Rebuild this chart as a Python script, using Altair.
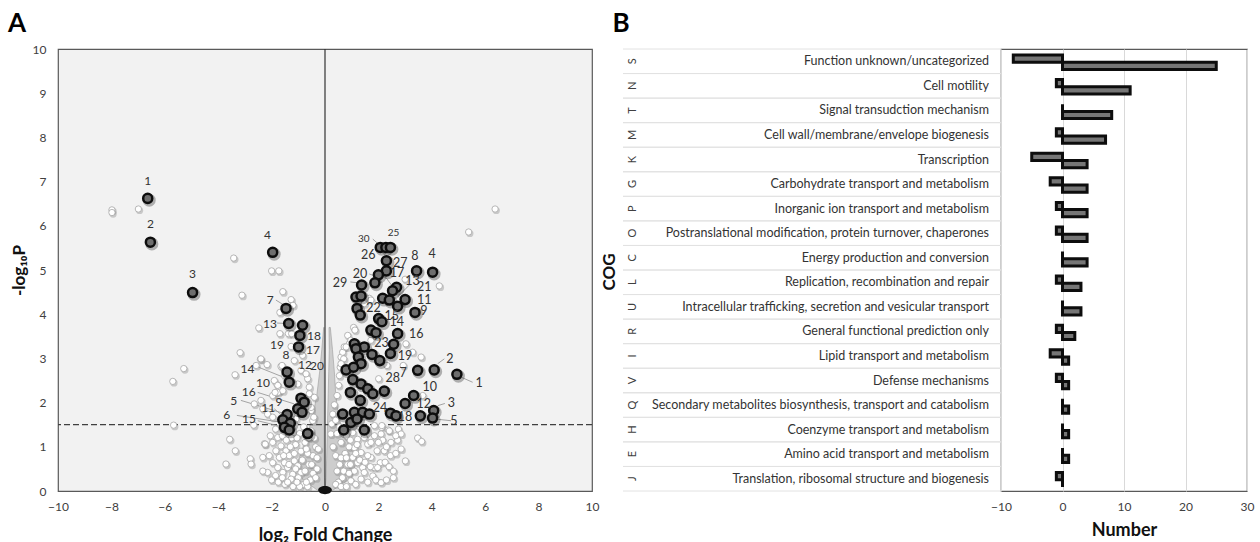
import altair as alt
import pandas as pd

FONT = "Lato"

# ---------------- Panel A: volcano plot data (log2 FC, -log10 P) ----------------
white_left = [
    (-7.98, 6.36), (-7.98, 6.30), (-6.99, 6.38),
    (-3.42, 5.27), (-2.0, 4.98), (-1.73, 4.98), (-3.11, 4.43), (-1.58, 4.51), (-1.27, 4.33),
    (-1.69, 4.04), (-1.2, 4.2), (-2.48, 3.69), (-3.18, 3.13), (-2.42, 2.98), (-1.69, 3.56),
    (-1.37, 3.56), (-1.25, 3.56), (-1.27, 3.27), (-1.65, 2.82), (-5.29, 2.77), (-5.7, 2.48),
    (-3.37, 2.63), (-2.58, 2.84), (-2.4, 2.99), (-2.17, 2.86), (-5.67, 1.49), (-3.57, 1.17),
    (-2.27, 1.07), (-2.4, 2.05), (-2.65, 1.97), (-2.33, 1.86), (-1.8, 2.41), (-1.71, 2.27),
    (-2.67, 1.49), (-3.36, 0.91), (-3.71, 0.61), (-2.8, 0.73), (-2.77, 0.61), (-2.24, 1.06),
    (-2.33, 0.76), (-2.15, 0.42), (-1.52, 2.61), (-0.9, 2.73), (-0.65, 2.54), (-0.59, 2.35),
    (-1.77, 2.23), (-1.96, 2.16), (-2.15, 1.74), (-1.96, 1.67), (-1.09, 1.63), (-0.52, 1.82),
    (-0.46, 1.59), (-0.52, 1.36), (-1.77, 1.21), (-1.96, 1.10), (-1.65, 1.02), (-1.84, 0.91),
    (-1.46, 0.91), (-2.09, 0.8), (-1.71, 0.76), (-1.34, 0.8), (-1.96, 0.64), (-1.52, 0.64),
    (-1.15, 0.68), (-1.77, 0.53), (-1.40, 0.53), (-1.02, 0.57), (-1.58, 0.42), (-1.21, 0.38),
    (-0.9, 0.42), (-1.27, 0.27), (-2.33, 0.45), (-1.61, 2.84), (-1.15, 2.95), (-0.84, 3.07),
    (-0.71, 2.65), (-0.59, 2.2), (-0.4, 2.12), (-0.52, 1.89), (-0.42, 1.67), (-1.9, 2.5),
    (-1.77, 2.39), (-1.87, 2.23), (-1.58, 2.27), (-1.02, 2.42),
    (-0.4, 1.2), (-0.35, 1.0), (-0.45, 0.8), (-0.6, 0.6), (-0.75, 0.45), (-1.0, 0.3),
    (-0.55, 0.25), (-0.8, 0.15), (-0.3, 0.5), (-1.1, 1.05), (-1.25, 1.2), (-0.95, 1.3),
    (-0.75, 1.1), (-0.65, 0.85), (-0.9, 0.9), (-1.15, 0.85),
    (-2.0, 0.25), (-1.75, 0.2), (-1.5, 0.15), (-1.2, 0.1), (-0.95, 0.1), (-0.65, 0.1),
    (-1.85, 0.35), (-1.6, 0.3), (-1.4, 0.2), (-1.05, 0.2), (-0.7, 0.2), (-2.05, 1.25),
    (-1.85, 1.4), (-1.6, 1.25), (-1.45, 1.15), (-1.3, 1.0), (-1.55, 0.8), (-1.35, 0.6),
    (-1.1, 0.5), (-0.85, 0.7), (-0.7, 0.95), (-0.6, 1.2), (-0.8, 1.45), (-1.05, 1.2),
    (-0.5, 0.6), (-0.45, 0.4), (-0.35, 0.3), (-0.3, 0.75), (-0.25, 0.95),
]
white_right = [
    (6.37, 6.38), (5.38, 5.86), (4.28, 4.64), (3.0, 4.79), (1.66, 4.36), (1.07, 3.7), (0.85, 3.52),
    (3.03, 3.33), (3.28, 3.14), (3.6, 3.03), (2.93, 2.84), (2.01, 2.54), (2.32, 2.84), (3.66, 2.16),
    (0.6, 3.03), (0.66, 3.14), (0.57, 2.8), (0.54, 2.61), (0.51, 2.39), (0.45, 2.16), (0.35, 1.95),
    (0.29, 1.74), (0.25, 1.52), (0.22, 1.29), (0.91, 3.33), (0.72, 3.26), (2.12, 1.44), (2.37, 1.38),
    (2.75, 1.40), (2.85, 1.29), (3.47, 1.2), (3.62, 1.12), (2.16, 1.15), (2.72, 1.15), (2.13, 1.48),
    (2.41, 1.36), (3.01, 0.68), (2.45, 0.8), (2.56, 0.45), (2.56, 0.30), (2.1, 0.19), (1.72, 0.76),
    (1.95, 0.91), (1.6, 1.06), (1.41, 0.53), (1.85, 0.53), (2.07, 0.64), (1.04, 1.32), (1.22, 1.17),
    (1.47, 1.21), (1.72, 1.10), (1.10, 0.98), (1.35, 0.87), (1.6, 0.8), (1.04, 0.76), (1.22, 0.64),
    (1.10, 0.45), (1.47, 0.42), (1.79, 0.34), (1.35, 0.27), (0.97, 0.23), (1.97, 0.53), (2.22, 0.91),
    (2.47, 1.10), (2.1, 1.29), (1.85, 1.48), (1.54, 1.4), (1.72, 4.32), (1.47, 4.24), (1.12, 3.64),
    (0.97, 3.41), (0.79, 3.26), (1.72, 3.41), (0.7, 2.99), (0.6, 2.88),
    (0.3, 1.0), (0.4, 0.8), (0.55, 0.6), (0.7, 0.45), (0.85, 0.6), (0.75, 0.85), (0.6, 1.1),
    (0.9, 1.0), (0.45, 1.3), (0.8, 1.25), (0.65, 0.3), (0.9, 0.4), (0.5, 0.2),
    (0.4, 0.15), (0.6, 0.1), (0.8, 0.1), (1.15, 0.15), (1.6, 0.2), (1.9, 0.25), (2.3, 0.25),
    (0.45, 0.45), (0.6, 0.75), (0.8, 0.75), (0.95, 0.6), (1.15, 0.85), (1.3, 0.7), (1.5, 0.65),
    (1.7, 0.55), (2.25, 0.65), (2.4, 0.55), (2.3, 1.0), (2.0, 1.1), (1.85, 1.25), (1.3, 1.45),
    (1.05, 1.5), (0.85, 1.45), (0.55, 1.45), (0.4, 1.6), (2.65, 0.85), (2.85, 0.95), (2.65, 1.25),
    (1.2, 1.05), (0.95, 1.15),
]
dark_left = [
    (-6.64, 6.62), (-6.54, 5.63), (-4.96, 4.49), (-1.96, 5.40),
    (-1.46, 4.13), (-1.36, 3.79), (-0.84, 3.75), (-0.94, 3.52), (-0.99, 3.26),
    (-1.42, 2.69), (-1.34, 2.46),
    (-0.9, 2.10), (-0.78, 2.01), (-1.02, 1.86), (-0.86, 1.78), (-1.42, 1.73), (-1.58, 1.61),
    (-1.30, 1.53), (-1.52, 1.44), (-1.34, 1.38), (-0.65, 1.30),
]
dark_right = [
    (2.07, 5.51), (2.28, 5.51), (2.45, 5.51), (2.30, 5.21), (2.30, 4.98), (2.0, 4.89),
    (3.43, 4.98), (4.03, 4.95), (1.87, 4.71), (1.37, 4.66), (2.68, 4.61), (2.53, 4.53),
    (1.16, 4.39), (1.35, 4.41), (2.16, 4.36), (2.41, 4.32), (3.0, 4.33), (2.72, 4.18),
    (1.2, 4.13), (1.32, 3.98), (3.37, 4.04), (2.01, 3.9), (2.13, 3.83), (1.72, 3.64),
    (1.91, 3.58), (2.72, 3.56), (2.57, 3.32), (2.45, 3.11), (1.10, 3.33), (1.47, 3.26),
    (1.16, 3.22), (1.25, 3.03), (1.76, 3.09), (2.05, 2.95), (1.35, 2.88), (0.79, 2.74),
    (1.07, 2.8), (3.47, 2.73), (4.09, 2.74), (4.94, 2.64), (1.04, 2.52), (1.35, 2.42),
    (1.6, 2.31), (1.79, 2.2), (2.22, 2.26), (0.95, 2.23), (1.32, 2.05), (3.32, 2.16),
    (3.0, 1.98), (0.66, 1.74), (1.10, 1.78), (1.41, 1.78), (1.66, 1.74), (2.45, 1.76),
    (2.66, 1.7), (3.57, 1.7), (4.07, 1.82), (4.03, 1.65), (0.97, 1.55), (1.2, 1.63),
    (0.70, 1.38), (1.47, 1.38),
]
label_text = ["1", "2", "3", "4", "7", "13", "18", "17", "19", "8", "12", "20", "14", "10",
              "16", "5", "9", "11", "6", "15",
              "30", "25", "26", "27", "8", "4", "17", "20", "29", "13", "21", "11", "9", "22",
              "15", "14", "16", "23", "19", "2", "1", "28", "7", "10", "3", "12", "24", "18", "5"]
label_x = [-6.64, -6.54, -4.96, -2.15, -2.05, -2.06, -0.41, -0.45, -1.80, -1.46, -0.75, -0.3,
           -2.9, -2.32, -2.86, -3.42, -1.72, -2.13, -3.68, -2.85,
           1.45, 2.57, 1.62, 2.82, 3.37, 4.01, 2.70, 1.31, 0.56, 3.28, 3.72, 3.72, 3.70, 1.82,
           2.50, 2.69, 3.42, 2.12, 3.0, 4.68, 5.77, 2.54, 2.93, 3.92, 4.73, 3.70, 2.06, 3.0, 4.83]
label_y = [7.02, 6.05, 4.91, 5.80, 4.32, 3.77, 3.50, 3.20, 3.30, 3.07, 2.84, 2.82,
           2.77, 2.45, 2.24, 2.03, 2.01, 1.88, 1.71, 1.62,
           5.70, 5.83, 5.34, 5.15, 5.32, 5.36, 4.94, 4.91, 4.71, 4.75, 4.62, 4.33, 4.07, 4.13,
           3.95, 3.83, 3.55, 3.35, 3.06, 2.98, 2.45, 2.55, 2.67, 2.35, 1.98, 1.97, 1.88, 1.68, 1.59]
label_size = [12] * 20 + [10, 10] + [12.5] * 27

# leader lines from labels to their points (start x/y, end x/y)
lead_x1 = [5.53, 4.47, 4.49, 4.72, 1.79, 0.95, 1.66, 2.28, 3.16,
           -1.84, -1.80, -2.65, -2.52, -3.15, -1.90, -3.30, -2.52]
lead_y1 = [2.46, 2.99, 1.98, 1.59, 5.70, 4.73, 4.91, 4.83, 4.66,
           4.32, 3.80, 2.84, 2.23, 2.05, 1.86, 1.71, 1.59]
lead_x2 = [4.97, 4.22, 4.22, 4.10, 2.07, 1.35, 2.03, 2.54, 2.72,
           -1.52, -1.46, -1.58, -1.15, -1.46, -1.46, -1.58, -1.52]
lead_y2 = [2.61, 2.88, 1.93, 1.63, 5.55, 4.70, 4.83, 4.62, 4.39,
           4.20, 3.79, 2.58, 1.97, 1.74, 1.63, 1.55, 1.44]

# dense cloud around zero (outline of the packed region)
cloud_y = [0.0, 0.3, 0.7, 1.2, 1.7, 2.2, 2.7, 3.2, 3.7]
cloud_left_outer = [-0.25, -0.9, -1.0, -0.7, -0.45, -0.3, -0.2, -0.12, -0.05]
cloud_left_inner = [0.0, -0.02, -0.03, -0.03, -0.03, -0.03, -0.03, -0.03, -0.03]
cloud_right_inner = [0.0, 0.04, 0.06, 0.08, 0.1, 0.12, 0.14, 0.16, 0.15]
cloud_right_outer = [0.25, 1.0, 1.2, 0.75, 0.5, 0.4, 0.35, 0.28, 0.2]
apex_x = [0.0]
apex_y = [0.02]
threshold = [1.5]
x_ticks = list(range(-10, 11, 2))
y_ticks = list(range(0, 11))

# ---------------- Panel B: COG bars ----------------
cog_codes = ["S", "N", "T", "M", "K", "G", "P", "O", "C", "L", "U", "R", "I", "V", "Q", "H", "E", "J"]
cog_names = [
    "Function unknown/uncategorized",
    "Cell motility",
    "Signal transudction mechanism",
    "Cell wall/membrane/envelope biogenesis",
    "Transcription",
    "Carbohydrate transport and metabolism",
    "Inorganic ion transport and metabolism ",
    "Postranslational modification, protein turnover, chaperones",
    "Energy production and conversion ",
    "Replication, recombination and repair",
    "Intracellular trafficking, secretion and vesicular transport",
    "General functional prediction only",
    "Lipid transport and metabolism",
    "Defense mechanisms",
    "Secondary metabolites biosynthesis, transport and catabolism ",
    "Coenzyme transport and metabolism ",
    "Amino acid transport and metabolism",
    "Translation, ribosomal structure and biogenesis",
]
down_counts = [-8, -1, 0, -1, -5, -2, -1, -1, 0, -1, 0, -1, -2, -1, 0, 0, 0, -1]
up_counts = [25, 11, 8, 7, 4, 4, 4, 4, 4, 3, 3, 2, 1, 1, 1, 1, 1, 0]
b_ticks = [-10, 0, 10, 20, 30]

# ================= build panel A =================
WA, HA = 534, 442
wdf = pd.DataFrame(white_left + white_right, columns=["x", "y"])
ddf = pd.DataFrame(dark_left + dark_right, columns=["x", "y"])
ldf = pd.DataFrame({"t": label_text, "x": label_x, "y": label_y, "s": label_size})
lead_df = pd.DataFrame({"x1": lead_x1, "y1": lead_y1, "x2": lead_x2, "y2": lead_y2})
cdf = pd.DataFrame({"cy": cloud_y, "lo": cloud_left_outer, "li": cloud_left_inner,
                    "ri": cloud_right_inner, "ro": cloud_right_outer})

xs = alt.Scale(domain=[-10, 10], nice=False, zero=False)
ys = alt.Scale(domain=[0, 10], nice=False)
xax = alt.Axis(values=x_ticks, grid=False, ticks=False, domain=False, labelFontSize=12,
               labelPadding=10, labelColor="#404040", labelFlush=False,
               title="log\u2082 Fold Change", titleFontSize=18, titleFontWeight="bold",
               titlePadding=14, titleColor="#111111")
yax = alt.Axis(values=y_ticks, grid=False, ticks=False, domain=False, labelFontSize=12,
               labelPadding=12, labelColor="#404040", labelFlush=False,
               title="-log\u2081\u2080P", titleFontSize=17, titleFontWeight="bold",
               titlePadding=4, titleColor="#111111")


def X(f):
    return alt.X(f, type="quantitative", scale=xs, axis=xax)


def Y(f):
    return alt.Y(f, type="quantitative", scale=ys, axis=yax)


cloud_l = alt.Chart(cdf).mark_area(orient="horizontal", fill="#cdcdcd", stroke="#9a9a9a",
                                   strokeWidth=0.6).encode(y=Y("cy"), x=X("lo"), x2="li")
cloud_r = alt.Chart(cdf).mark_area(orient="horizontal", fill="#cdcdcd", stroke="#9a9a9a",
                                   strokeWidth=0.6).encode(y=Y("cy"), x=X("ri"), x2="ro")
thr = alt.Chart(pd.DataFrame({"t": threshold})).mark_rule(
    strokeDash=[6, 3], color="#404040", strokeWidth=1.3).encode(y=Y("t"))
zero = alt.Chart(pd.DataFrame({"z": [0]})).mark_rule(color="#333333", strokeWidth=1.2).encode(x=X("z"))
leaders = alt.Chart(lead_df).mark_rule(color="#9a9a9a", strokeWidth=0.9).encode(
    x=X("x1"), y=Y("y1"), x2="x2", y2="y2")
w_shadow = alt.Chart(wdf).mark_circle(color="#7a7a7a", opacity=0.35, size=52, xOffset=1.2,
                                      yOffset=1.5).encode(x=X("x"), y=Y("y"))
w_pts = alt.Chart(wdf).mark_point(shape="circle", filled=True, fill="#ffffff", stroke="#a6a6a6",
                                  strokeWidth=0.8, size=40, opacity=1).encode(x=X("x"), y=Y("y"))
apex = alt.Chart(pd.DataFrame({"x": apex_x, "y": apex_y})).mark_point(
    shape="M -1 0 A 1 0.6 0 1 0 1 0 A 1 0.6 0 1 0 -1 0 Z", filled=True, fill="#111111",
    size=190, opacity=1).encode(x=X("x"), y=Y("y"))
d_shadow = alt.Chart(ddf).mark_circle(color="#000000", opacity=0.28, size=170, xOffset=1.5,
                                      yOffset=1.8).encode(x=X("x"), y=Y("y"))
d_pts = alt.Chart(ddf).mark_point(shape="circle", filled=True, fill="#6e6e6e", stroke="#0d0d0d",
                                  strokeWidth=2.5, size=82, opacity=1).encode(x=X("x"), y=Y("y"))
labels = alt.Chart(ldf).mark_text(font=FONT, color="#333333", align="center",
                                  baseline="middle").encode(
    x=X("x"), y=Y("y"), text="t:N", size=alt.Size("s:Q", scale=None, legend=None))
letter_a = alt.Chart(pd.DataFrame({"t": ["A"]})).mark_text(
    font=FONT, fontSize=26, fontWeight="bold", color="#000000", align="center",
    baseline="middle").encode(text="t:N", x=alt.value(-41), y=alt.value(-25))

panel_a = alt.layer(cloud_l, cloud_r, thr, zero, leaders, w_shadow, w_pts, apex, d_shadow,
                    d_pts, labels, letter_a).properties(
    width=WA, height=HA,
    view=alt.ViewBackground(fill="#f2f2f2", stroke="#595959", strokeWidth=1.2))

# ================= build panel B =================
WB, HB = 246, 442
bdf = pd.DataFrame({
    "code": cog_codes * 2,
    "series": ["down"] * len(cog_codes) + ["up"] * len(cog_codes),
    "value": down_counts + up_counts,
})
tdf = pd.DataFrame({"code": cog_codes, "name": cog_names})
yband = alt.Scale(paddingInner=0, paddingOuter=0)


def YB(**kw):
    return alt.Y("code:N", sort=cog_codes, scale=yband, axis=None, **kw)


bars = alt.Chart(bdf).mark_bar(fill="#767676", stroke="#0d0d0d", strokeWidth=3).encode(
    y=YB(),
    yOffset=alt.YOffset("series:N", sort=["down", "up"],
                        scale=alt.Scale(paddingInner=0, paddingOuter=0.7, align=0.6)),
    x=alt.X("value:Q", scale=alt.Scale(domain=[-10, 30], nice=False),
            axis=alt.Axis(values=b_ticks, grid=True, gridColor="#d9d9d9", ticks=False,
                          domain=False, labelFontSize=12, labelPadding=10, labelColor="#404040",
                          labelFlush=False, title="Number", titleFontSize=18,
                          titleFontWeight="bold", titlePadding=9, titleColor="#111111")),
)
sep_top = alt.Chart(tdf).mark_rule(color="#e2e2e2", strokeWidth=1).encode(
    y=YB(bandPosition=0), x=alt.value(-378), x2=alt.value(0))
sep_bot = alt.Chart(tdf).mark_rule(color="#e2e2e2", strokeWidth=1).encode(
    y=YB(bandPosition=1), x=alt.value(-378), x2=alt.value(0))
code_txt = alt.Chart(tdf).mark_text(font=FONT, fontSize=11, angle=270, color="#404040",
                                    align="center", baseline="middle").encode(
    y=YB(), x=alt.value(-368), text="code:N")
name_txt = alt.Chart(tdf).mark_text(font=FONT, fontSize=12.5, color="#333333", align="right",
                                    baseline="middle").encode(
    y=YB(), x=alt.value(-12), text="name:N")
cog_title = alt.Chart(pd.DataFrame({"t": ["COG"]})).mark_text(
    font=FONT, fontSize=17, fontWeight="bold", angle=270, color="#111111", align="center",
    baseline="middle").encode(text="t:N", x=alt.value(-391), y=alt.value(223))
letter_b = alt.Chart(pd.DataFrame({"t": ["B"]})).mark_text(
    font=FONT, fontSize=26, fontWeight="bold", color="#000000", align="center",
    baseline="middle").encode(text="t:N", x=alt.value(-380), y=alt.value(-25))

panel_b = alt.layer(sep_top, sep_bot, bars, code_txt, name_txt, cog_title, letter_b).properties(
    width=WB, height=HB,
    view=alt.ViewBackground(fill="#ffffff", stroke="#595959", strokeWidth=1.2))

chart = alt.hconcat(panel_a, panel_b, spacing=409, bounds="flush").properties(
    padding={"left": 7, "top": 10, "right": 5, "bottom": 5}
).configure(font=FONT).configure_view(strokeWidth=1.2)

chart.save("out.html", embed_options={"renderer": "svg", "actions": False})
